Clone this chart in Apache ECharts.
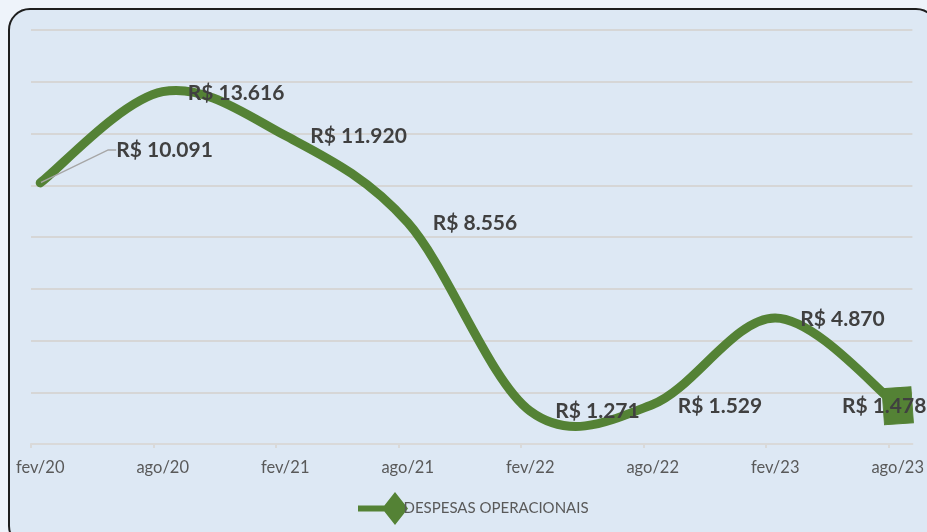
<!DOCTYPE html>
<html>
<head>
<meta charset="utf-8">
<script src="https://cdn.jsdelivr.net/npm/echarts@6/dist/echarts.min.js"></script>
<style>
  html, body { margin: 0; padding: 0; width: 927px; height: 532px; overflow: hidden; background: #eef3fa; }
  #frame { position: absolute; left: 8px; top: 8px; width: 930px; height: 540px; box-sizing: border-box;
    border: 2px solid #1e1e1e; border-radius: 22px; background: #dde8f4; }
  #chart { position: absolute; left: 0; top: 0; width: 927px; height: 532px; }
</style>
</head>
<body>
<div id="frame"></div>
<div id="chart"></div>
<script>
// período (semestral) e valores das despesas
const categories = ['fev/20', 'ago/20', 'fev/21', 'ago/21', 'fev/22', 'ago/22', 'fev/23', 'ago/23']
const despesas = [10091, 13616, 11920, 8556, 1271, 1529, 4870, 1478]
const seriesName = 'DESPESAS OPERACIONAIS'

// deslocamento dos rótulos (estilo)
const labelShift = [[51, -33], [0, 2], [0, 1], [0, 1], [0, 0], [0, 2], [0, 1], [-96, 0]]

const green = '#548235'
const font = 'Lato'

const fmt = (v) => 'R$ ' + String(v).replace(/\B(?=(\d{3})+(?!\d))/g, '.')

const chart = echarts.init(document.getElementById('chart'))

// curva suavizada estilo Excel (Catmull-Rom) desenhada a partir das coordenadas do eixo
const renderCurve = (params, api) => {
  if (params.dataIndex !== 0) return null
  const pts = despesas.map((v, i) => api.coord([i, v]))
  const path = []
  path.push('M' + pts[0][0] + ',' + pts[0][1])
  for (let i = 0; i < pts.length - 1; i++) {
    const p0 = pts[i - 1] || pts[i]
    const p1 = pts[i]
    const p2 = pts[i + 1]
    const p3 = pts[i + 2] || pts[i + 1]
    const c1 = [p1[0] + (p2[0] - p0[0]) / 6, p1[1] + (p2[1] - p0[1]) / 6]
    const c2 = [p2[0] - (p3[0] - p1[0]) / 6, p2[1] - (p3[1] - p1[1]) / 6]
    path.push('C' + c1[0] + ',' + c1[1] + ' ' + c2[0] + ',' + c2[1] + ' ' + p2[0] + ',' + p2[1])
  }
  return {
    type: 'path',
    shape: { pathData: path.join(' ') },
    style: { fill: 'none', stroke: green, lineWidth: 9, lineCap: 'round', lineJoin: 'round' }
  }
}

const pointData = despesas.map((v, i) => {
  const item = { value: [i, v] }
  if (i === 0) {
    item.labelLine = { show: true }
  }
  if (i === despesas.length - 1) {
    item.symbol = 'rect'
    item.symbolSize = [29, 36]
    item.symbolRotate = 4
  }
  return item
})

const option = {
  backgroundColor: 'transparent',
  animation: false,
  grid: { left: 31, right: 12, top: 30, bottom: 88 },
  xAxis: {
    type: 'value',
    min: -0.075,
    max: 7.12,
    axisLine: { show: true, lineStyle: { color: '#d9d9d9', width: 2 } },
    axisTick: {
      show: true,
      customValues: categories.map((c, i) => i - 0.075),
      length: 4,
      lineStyle: { color: '#d9d9d9', width: 2 }
    },
    axisLabel: {
      customValues: categories.map((c, i) => i),
      formatter: (v) => categories[Math.round(v)],
      color: '#595959',
      fontFamily: font,
      fontSize: 16.5,
      margin: 15
    },
    splitLine: { show: false }
  },
  yAxis: {
    type: 'value',
    min: 0,
    max: 16000,
    interval: 2000,
    axisLabel: { show: false },
    axisLine: { show: false },
    axisTick: { show: false },
    splitLine: { show: true, lineStyle: { color: '#d6d6d6', width: 2 } }
  },
  legend: {
    bottom: 2,
    left: 353,
    itemWidth: 53,
    itemHeight: 33,
    icon: 'path://M3,13.5 L40,13.5 L40,19.5 L3,19.5 Z M40,0 L53,16.5 L40,33 L27,16.5 Z',
    textStyle: { color: '#595959', fontFamily: font, fontSize: 15, padding: [0, 0, 0, -11] },
    data: [seriesName]
  },
  series: [
    {
      name: seriesName,
      type: 'custom',
      renderItem: renderCurve,
      data: despesas.map((v, i) => [i, v]),
      itemStyle: { color: green },
      z: 2
    },
    {
      name: 'rotulos',
      type: 'line',
      symbol: 'circle',
      symbolSize: 1,
      data: pointData,
      lineStyle: { width: 0, opacity: 0 },
      itemStyle: { color: green, borderColor: green },
      label: {
        show: true,
        position: 'right',
        distance: 24,
        formatter: (p) => fmt(p.value[1]),
        color: '#404040',
        fontFamily: font,
        fontWeight: 'bold',
        fontSize: 21
      },
      labelLayout: (p) => {
        const s = labelShift[p.dataIndex]
        return { dx: s[0], dy: s[1] }
      },
      labelLine: {
        show: false,
        showAbove: false,
        length2: 8,
        lineStyle: { color: '#a6a6a6', width: 1.5 }
      },
      z: 3
    }
  ]
}

chart.setOption(option)
</script>
</body>
</html>
